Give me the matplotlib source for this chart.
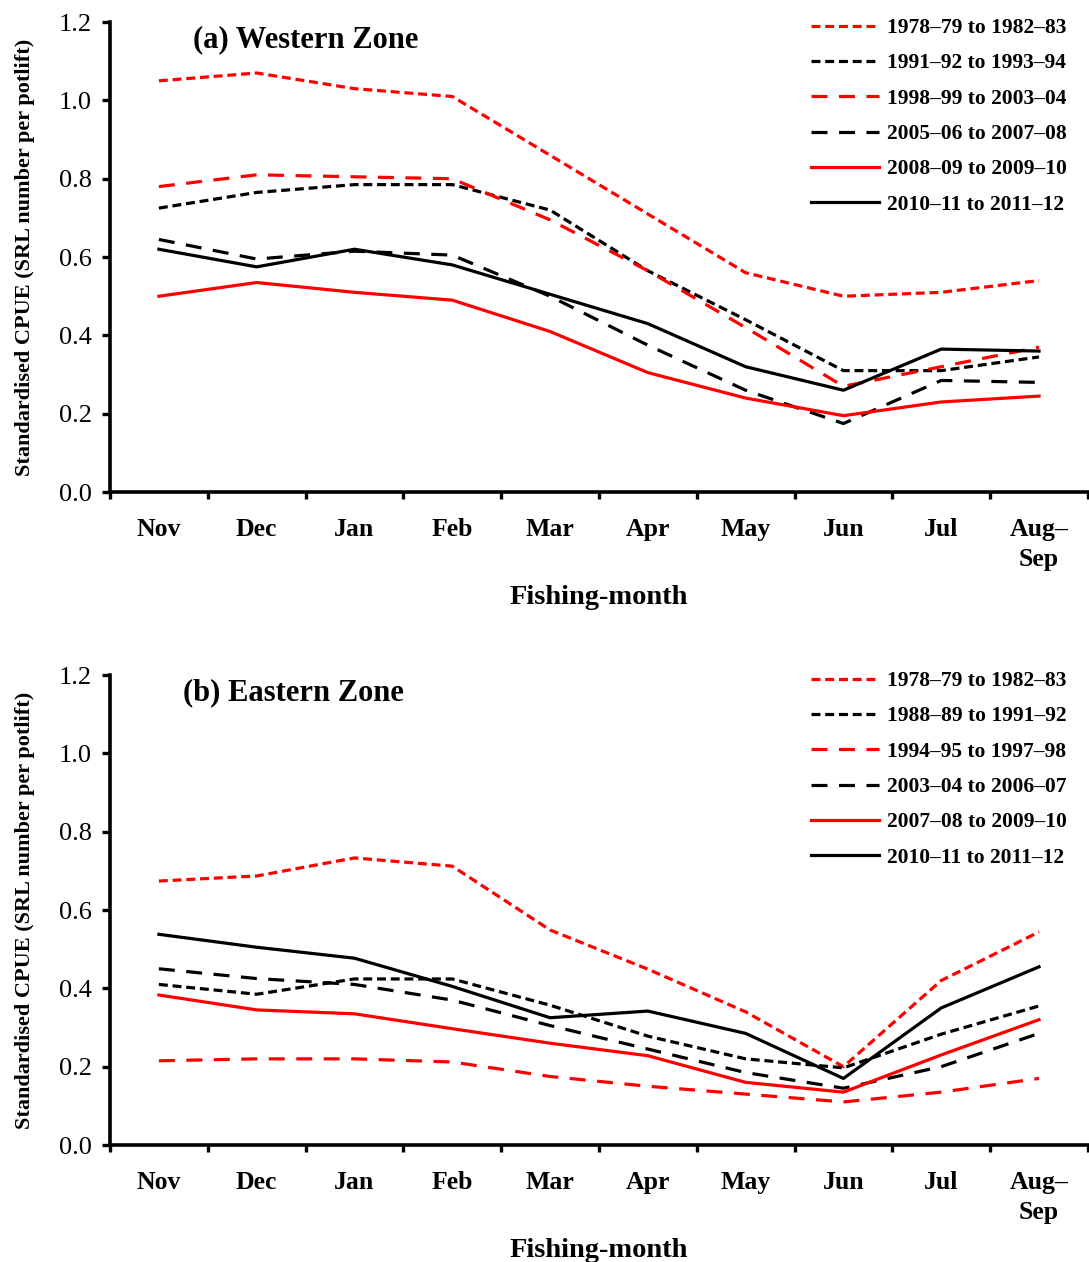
import matplotlib.pyplot as plt
import numpy as np

months = ['Nov', 'Dec', 'Jan', 'Feb', 'Mar', 'Apr', 'May', 'Jun', 'Jul', 'Aug–\nSep']

west_labels = ['1978–79 to 1982–83', '1991–92 to 1993–94', '1998–99 to 2003–04',
               '2005–06 to 2007–08', '2008–09 to 2009–10', '2010–11 to 2011–12']
west_7879 = [1.05, 1.07, 1.03, 1.01, 0.86, 0.71, 0.56, 0.50, 0.51, 0.54]
west_9192 = [0.725, 0.765, 0.785, 0.785, 0.72, 0.565, 0.44, 0.31, 0.31, 0.345]
west_9899 = [0.78, 0.81, 0.805, 0.80, 0.695, 0.565, 0.42, 0.27, 0.32, 0.37]
west_0506 = [0.645, 0.595, 0.615, 0.605, 0.50, 0.375, 0.26, 0.175, 0.285, 0.28]
west_0809 = [0.50, 0.535, 0.51, 0.49, 0.41, 0.305, 0.24, 0.195, 0.23, 0.245]
west_1011 = [0.62, 0.575, 0.62, 0.58, 0.505, 0.43, 0.32, 0.26, 0.365, 0.36]

east_labels = ['1978–79 to 1982–83', '1988–89 to 1991–92', '1994–95 to 1997–98',
               '2003–04 to 2006–07', '2007–08 to 2009–10', '2010–11 to 2011–12']
east_7879 = [0.674, 0.687, 0.733, 0.712, 0.549, 0.449, 0.34, 0.20, 0.42, 0.544]
east_8889 = [0.41, 0.385, 0.424, 0.424, 0.357, 0.278, 0.22, 0.197, 0.283, 0.355]
east_9495 = [0.215, 0.22, 0.22, 0.212, 0.175, 0.15, 0.13, 0.11, 0.135, 0.17]
east_0304 = [0.45, 0.425, 0.41, 0.37, 0.305, 0.245, 0.185, 0.145, 0.20, 0.285]
east_0708 = [0.383, 0.345, 0.335, 0.297, 0.26, 0.228, 0.16, 0.135, 0.23, 0.32]
east_1011 = [0.538, 0.505, 0.477, 0.405, 0.325, 0.342, 0.285, 0.17, 0.35, 0.455]

colors = ['red', 'black', 'red', 'black', 'red', 'black']
short = (2.8, 1.5)
long = (5.0, 3.6)
dashes = [short, short, long, long, None, None]

plt.rcParams['font.family'] = ['Liberation Serif', 'DejaVu Serif']

fig = plt.figure(figsize=(10.89, 12.62), dpi=100)
ax_a = fig.add_axes([0.101, 0.6101, 0.898, 0.3724])
ax_b = fig.add_axes([0.101, 0.0927, 0.898, 0.3724])


def draw(ax, series, labels, title, title_x):
    x = np.arange(len(months))
    for vals, lab, c, d in zip(series, labels, colors, dashes):
        line, = ax.plot(x, vals, color=c, lw=2.3, label=lab)
        if d is not None:
            line.set_dashes(d)
    ax.set_xlim(-0.5, 9.5)
    ax.set_ylim(0, 1.2)
    yt = np.arange(0, 1.21, 0.2)
    ax.set_yticks(yt)
    ax.set_yticklabels([f'{v:.1f}' for v in yt], fontsize=19)
    ax.set_xticks(np.arange(-0.5, 9.6, 1))
    ax.set_xticklabels([])
    ax.set_xticks(x, minor=True)
    ax.set_xticklabels(months, minor=True, fontsize=18.5, fontweight='bold',
                       va='top', linespacing=1.38)
    ax.tick_params(axis='x', which='minor', length=0, pad=19)
    ax.tick_params(axis='x', which='major', length=5, width=2.4, direction='out')
    ax.tick_params(axis='y', length=6, width=2.4, direction='out', pad=7)
    for s in ['top', 'right']:
        ax.spines[s].set_visible(False)
    for s in ['left', 'bottom']:
        ax.spines[s].set_linewidth(2.6)
    ax.set_xlabel('Fishing-month', fontsize=20.5, fontweight='bold', labelpad=10)
    ax.set_ylabel('Standardised CPUE (SRL number per potlift)', fontsize=16,
                  fontweight='bold', labelpad=17)
    ax.text(title_x, 0.963, title, transform=ax.transAxes, fontsize=22,
            fontweight='bold', va='center')
    ax.legend(loc='upper right', frameon=False, prop={'size': 15.5, 'weight': 'bold'},
              handlelength=3.15, handletextpad=0.37, labelspacing=0.71,
              borderaxespad=0.0, bbox_to_anchor=(0.987, 1.027))


draw(ax_a, [west_7879, west_9192, west_9899, west_0506, west_0809, west_1011],
     west_labels, '(a) Western Zone', 0.0847)
draw(ax_b, [east_7879, east_8889, east_9495, east_0304, east_0708, east_1011],
     east_labels, '(b) Eastern Zone', 0.0745)

fig.savefig('out.png', dpi=100)
